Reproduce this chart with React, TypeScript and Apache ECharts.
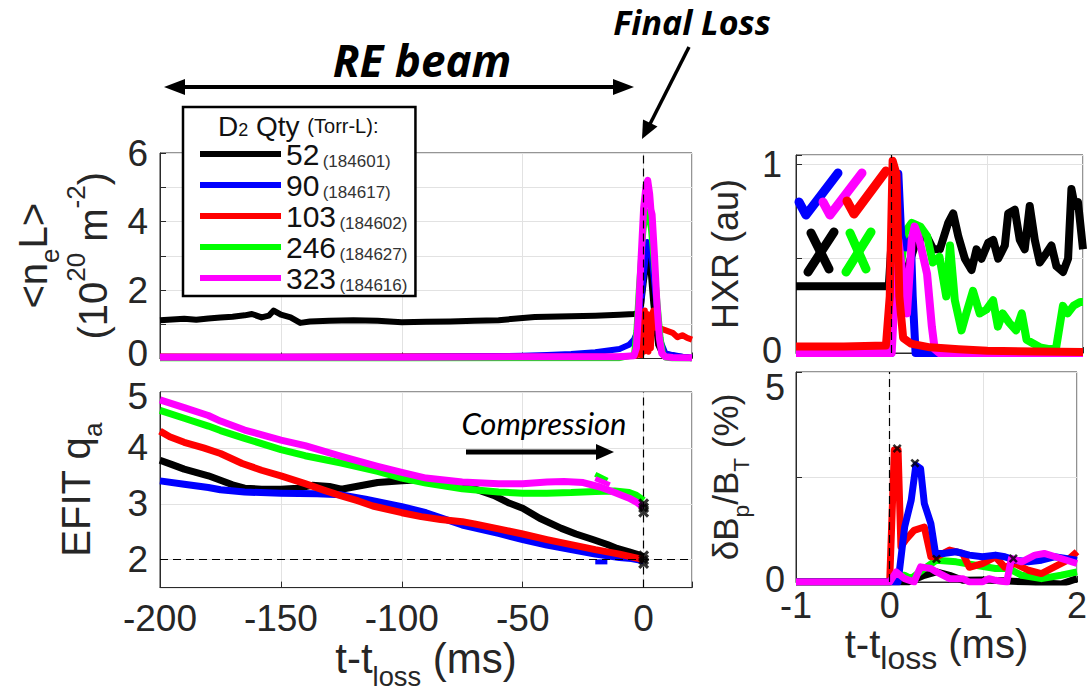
import React, { useEffect, useRef } from 'react';
import * as echarts from 'echarts';

// ---------- data ----------
const legendNames = ['52', '90', '103', '246', '323'];
const legendShots = ['184601', '184617', '184602', '184627', '184616'];

// <n_e L> (10^20 m^-2) vs t - t_loss (ms)
const neBlack: [number, number][] = [
  [-200, 1.12], [-195, 1.14], [-190, 1.16], [-185, 1.13], [-180, 1.17], [-175, 1.2], [-170, 1.22], [-165, 1.26],
  [-162, 1.3], [-158, 1.2], [-155, 1.25], [-153, 1.4], [-150, 1.28], [-146, 1.2], [-142, 1.04], [-138, 1.08],
  [-130, 1.1], [-120, 1.12], [-110, 1.1], [-100, 1.06], [-90, 1.07], [-80, 1.08], [-70, 1.1], [-60, 1.12],
  [-50, 1.18], [-45, 1.21], [-40, 1.22], [-30, 1.23], [-20, 1.25], [-10, 1.28], [-4, 1.3], [-2, 1.32],
  [-1, 1.6], [0, 2.2], [1, 2.7], [2.5, 2.9], [4, 1.6], [6, 0.4], [8, 0.1], [10, 0.12], [14, 0.06], [18, 0.04], [20, 0.0],
];
const neBlue: [number, number][] = [
  [-200, 0.05], [-150, 0.05], [-100, 0.06], [-60, 0.07], [-50, 0.08], [-40, 0.1], [-30, 0.13], [-20, 0.18],
  [-10, 0.28], [-6, 0.4], [-4, 0.55], [-2, 0.9], [0, 2.4], [1.5, 3.4], [3, 3.2], [5, 1.8], [7, 0.5], [9, 0.15],
  [12, 0.1], [16, 0.05], [20, 0.02],
];
const neRed: [number, number][] = [
  [-200, 0.06], [-150, 0.05], [-100, 0.06], [-50, 0.05], [-10, 0.06], [-3, 0.08], [-2, 0.2], [-1.5, 1.0],
  [-1, 0.1], [-0.5, 1.2], [0, 0.2], [0.5, 1.4], [1, 0.3], [1.5, 1.3], [2, 0.2], [2.5, 1.2], [3, 0.3],
  [3.5, 1.3], [4, 1.4], [4.5, 1.1], [5, 0.9], [5.5, 1.0], [6, 0.9], [8, 0.85], [10, 0.8], [12, 0.75],
  [14, 0.62], [16, 0.68], [18, 0.6], [20, 0.55],
];
const neGreen: [number, number][] = [
  [-200, 0.0], [-100, 0.0], [-10, 0.01], [-4, 0.1], [-3, 0.8], [-2, 2.0], [-1, 3.0], [0, 3.8], [1, 4.3],
  [2, 4.2], [3, 3.8], [4, 3.0], [5, 2.2], [6, 1.4], [7, 0.6], [8, 0.15], [9, 0.03], [12, 0.0], [20, 0.0],
];
const neMagenta: [number, number][] = [
  [-200, 0.04], [-100, 0.04], [-50, 0.05], [-10, 0.05], [-4, 0.08], [-3, 0.3], [-2, 1.5], [-1, 3.0], [0, 4.4],
  [1, 5.05], [1.7, 5.2], [2.5, 4.8], [3, 4.35], [3.5, 4.2], [4.5, 3.0], [5.5, 1.6], [6.5, 0.6], [7.5, 0.15],
  [9, 0.05], [12, 0.03], [20, 0.02],
];

// EFIT q_a vs t - t_loss (ms)
const qaBlack: [number, number][] = [
  [-200, 3.78], [-195, 3.7], [-190, 3.62], [-180, 3.5], [-175, 3.42], [-170, 3.34], [-165, 3.28], [-158, 3.26],
  [-150, 3.26], [-143, 3.28], [-137, 3.33], [-130, 3.31], [-125, 3.26], [-120, 3.3], [-110, 3.38], [-100, 3.41],
  [-92, 3.43], [-84, 3.39], [-75, 3.33], [-70, 3.27], [-62, 3.15], [-56, 3.02], [-50, 2.92], [-43, 2.74],
  [-34, 2.56], [-28, 2.46], [-21, 2.36], [-15, 2.27], [-11, 2.2], [-6, 2.14], [-3, 2.1], [0, 2.05],
];
const qaBlue: [number, number][] = [
  [-200, 3.41], [-190, 3.35], [-180, 3.29], [-175, 3.25], [-165, 3.21], [-150, 3.19], [-135, 3.18], [-125, 3.16],
  [-115, 3.08], [-100, 2.95], [-90, 2.84], [-75, 2.62], [-60, 2.47], [-50, 2.36], [-40, 2.26], [-30, 2.18],
  [-20, 2.1], [-15, 2.07], [-10, 2.04], [-5, 2.02], [0, 1.98],
];
const qaRed: [number, number][] = [
  [-200, 4.3], [-196, 4.2], [-190, 4.1], [-182, 4.0], [-175, 3.9], [-166, 3.72], [-158, 3.6], [-150, 3.5],
  [-140, 3.36], [-132, 3.24], [-125, 3.14], [-118, 3.05], [-112, 2.96], [-100, 2.84], [-92, 2.77], [-84, 2.72],
  [-75, 2.68], [-70, 2.64], [-60, 2.55], [-50, 2.46], [-40, 2.36], [-30, 2.27], [-20, 2.18], [-10, 2.1],
  [-5, 2.05], [0, 2.0],
];
const qaGreen: [number, number][] = [
  [-200, 4.67], [-190, 4.53], [-180, 4.39], [-175, 4.31], [-165, 4.17], [-150, 3.97], [-140, 3.86], [-125, 3.73],
  [-110, 3.58], [-100, 3.46], [-90, 3.37], [-75, 3.27], [-60, 3.21], [-50, 3.19], [-40, 3.19], [-30, 3.2],
  [-20, 3.22], [-12, 3.23], [-6, 3.2], [-3, 3.15], [0, 3.06],
];
const qaMagenta: [number, number][] = [
  [-200, 4.86], [-190, 4.72], [-180, 4.58], [-175, 4.48], [-165, 4.32], [-150, 4.14], [-140, 4.04], [-125, 3.85],
  [-110, 3.67], [-100, 3.56], [-90, 3.46], [-75, 3.39], [-60, 3.36], [-50, 3.36], [-40, 3.39], [-33, 3.4],
  [-25, 3.38], [-18, 3.3], [-12, 3.2], [-6, 3.1], [-3, 3.03], [0, 2.93],
];
const qaGreenFrag: [number, number][] = [[-20, 3.53], [-15, 3.42]];
const qaMagentaFrag: [number, number][] = [[-20, 3.45], [-14, 3.34]];
const qaBlueFrag: [number, number][] = [[-20, 1.96], [-15, 1.96]];
const qaEndMarks: [number, number][] = [[0, 1.93], [0, 2.0], [0, 2.07], [0, 2.85], [0, 2.93], [0, 3.0]];

// HXR (au) vs t - t_loss (ms)
const hxrBlack: [number, number][] = [
  [-1, 0.354], [-0.03, 0.354], [0.0, 0.6], [0.04, 0.5], [0.087, 0.39], [0.174, 0.46], [0.26, 0.6], [0.365, 0.62],
  [0.435, 0.55], [0.504, 0.55], [0.591, 0.69], [0.643, 0.74], [0.696, 0.62], [0.765, 0.5], [0.835, 0.44],
  [0.887, 0.55], [0.939, 0.5], [1.009, 0.585], [1.061, 0.6], [1.113, 0.5], [1.183, 0.57], [1.218, 0.74],
  [1.287, 0.76], [1.339, 0.6], [1.391, 0.55], [1.443, 0.78], [1.496, 0.6], [1.548, 0.48], [1.618, 0.53],
  [1.67, 0.57], [1.722, 0.46], [1.792, 0.43], [1.844, 0.5], [1.879, 0.87], [1.914, 0.78], [1.948, 0.8], [2.0, 0.55],
];
const hxrGreen: [number, number][] = [
  [-1, 0], [-0.01, 0], [0.01, 0.64], [0.087, 0.43], [0.14, 0.64], [0.21, 0.69], [0.3, 0.67], [0.37, 0.62],
  [0.43, 0.48], [0.5, 0.51], [0.57, 0.3], [0.61, 0.57], [0.66, 0.28], [0.73, 0.12], [0.78, 0.21], [0.85, 0.33],
  [0.92, 0.21], [0.99, 0.23], [1.06, 0.28], [1.11, 0.14], [1.16, 0.21], [1.23, 0.16], [1.3, 0.12], [1.36, 0.21],
  [1.41, 0.07], [1.48, 0.05], [1.55, 0.03], [1.65, 0.02], [1.72, 0.03], [1.79, 0.25], [1.84, 0.21], [1.9, 0.25],
  [1.97, 0.27], [2.0, 0.27],
];
const hxrBlue: [number, number][] = [
  [-1, 0], [-0.01, 0], [0.03, 0.6], [0.07, 0.95], [0.1, 0.62], [0.15, 0.56], [0.2, 0.6], [0.22, 0.3], [0.25, 0], [2, 0],
];
const hxrMagenta: [number, number][] = [
  [-1, 0], [0.0, 0], [0.03, 0.3], [0.07, 0.6], [0.12, 0.39], [0.16, 0.21], [0.21, 0.6], [0.24, 0.67], [0.29, 0.6],
  [0.37, 0.42], [0.42, 0.14], [0.45, 0.02], [0.5, 0], [2, 0],
];
const hxrRed: [number, number][] = [
  [-1, 0.035], [-0.5, 0.035], [-0.06, 0.04], [-0.02, 0.3], [0.01, 1.02], [0.05, 0.95], [0.08, 0.3], [0.12, 0.08],
  [0.2, 0.05], [0.4, 0.03], [0.7, 0.02], [1.0, 0.012], [1.5, 0.008], [2.0, 0.005],
];

// dBp/BT (%) vs t - t_loss (ms)
const dbBlack: [number, number][] = [
  [-1, 0], [0.2, 0], [0.37, 0.16], [0.5, 0.24], [0.64, 0.16], [0.78, 0.04], [1.0, 0.05], [1.2, 0.03], [1.48, 0],
  [1.83, -0.05], [2.0, 0.08],
];
const dbGreen: [number, number][] = [
  [-1, 0], [0.0, 0], [0.05, 0.16], [0.16, 0.16], [0.23, 0.08], [0.37, 0.32], [0.5, 0.52], [0.71, 0.48], [0.92, 0.4],
  [1.13, 0.32], [1.27, 0.32], [1.41, 0.16], [1.62, 0.08], [1.83, 0.16], [2.0, 0.24],
];
const dbRed: [number, number][] = [
  [-1, 0], [0.0, 0], [0.05, 3.14], [0.09, 3.14], [0.12, 0.84], [0.17, 1.0], [0.26, 1.23], [0.37, 1.31], [0.44, 0.6],
  [0.5, 0.6], [0.64, 0.76], [0.78, 0.68], [0.85, 0.35], [0.99, 0.44], [1.13, 0.6], [1.23, 0.35], [1.34, 0.44],
  [1.48, 0.28], [1.62, 0.2], [1.76, 0.36], [1.9, 0.52], [2.0, 0.72],
];
const dbBlue: [number, number][] = [
  [-1, 0], [0.09, 0], [0.16, 1.31], [0.23, 1.95], [0.28, 2.78], [0.33, 2.7], [0.37, 1.87], [0.44, 1.39], [0.49, 0.68],
  [0.57, 0.68], [0.71, 0.72], [0.85, 0.64], [0.99, 0.6], [1.13, 0.64], [1.23, 0.6], [1.34, 0.52], [1.48, 0.48],
  [1.62, 0.52], [1.76, 0.6], [2.0, 0.52],
];
const dbMagenta: [number, number][] = [
  [-1, 0], [0.0, 0], [0.07, 0.24], [0.16, 0.08], [0.26, 0.0], [0.33, 0.36], [0.44, 0.32], [0.5, 0.24], [0.64, 0.08],
  [0.78, 0.08], [0.85, 0.0], [0.99, 0.0], [1.06, 0.08], [1.13, 0.04], [1.25, 0.0], [1.3, 0.56], [1.41, 0.48],
  [1.55, 0.64], [1.65, 0.68], [1.83, 0.56], [2.0, 0.44],
];
const dbPeakMarks: [number, number][] = [[0.08, 3.18], [0.27, 2.83], [0.5, 0.55], [1.32, 0.56]];

// ---------- styling ----------
const FONT = '"Liberation Sans", Helvetica, Arial, sans-serif';
const TXT = '#262626';
const AXC = '#2a2a2a';
const GRIDC = '#e2e2e2';
const C = { black: '#000000', blue: '#0000ff', red: '#ff0000', green: '#00ff00', magenta: '#ff00ff' };
const XMARK = 'path://M2,0L5,3L8,0L10,2L7,5L10,8L8,10L5,7L2,10L0,8L3,5L0,2Z';

function rich(size: number, subRatio = 0.65) {
  return {
    m: { fontSize: size, fontFamily: FONT, color: TXT, lineHeight: size * 1.5, verticalAlign: 'middle' },
    sub: { fontSize: size * subRatio, fontFamily: FONT, color: TXT, lineHeight: size * 0.75, verticalAlign: 'bottom' },
    sup: { fontSize: size * 0.65, fontFamily: FONT, color: TXT, lineHeight: size, verticalAlign: 'top' },
  };
}

function valueAxis(gi: number, extra: any) {
  return {
    type: 'value',
    gridIndex: gi,
    axisLine: { show: true, onZero: false, lineStyle: { color: AXC, width: 1 } },
    axisTick: { show: true, inside: true, length: 6, lineStyle: { color: AXC } },
    splitLine: { show: true, lineStyle: { color: GRIDC, width: 1 } },
    ...extra,
    axisLabel: { fontFamily: FONT, fontSize: 37, color: TXT, ...(extra.axisLabel || {}) },
  };
}

const dashed = (data: any[]) => ({
  silent: true,
  symbol: ['none', 'none'],
  label: { show: false },
  animation: false,
  lineStyle: { color: '#000', type: [8, 5], width: 1.2 },
  data,
});

function line(name: string, data: [number, number][], color: string, gi: number, width: number, extra: any = {}) {
  return {
    type: 'line',
    name,
    data,
    xAxisIndex: gi,
    yAxisIndex: gi,
    showSymbol: false,
    symbol: 'none',
    lineStyle: { color, width, join: 'round', cap: 'butt' },
    itemStyle: { color },
    silent: true,
    emphasis: { disabled: true },
    ...extra,
  };
}

function marks(name: string, data: [number, number][], gi: number, size: number) {
  return {
    type: 'scatter',
    name,
    data,
    xAxisIndex: gi,
    yAxisIndex: gi,
    symbol: XMARK,
    symbolSize: size,
    itemStyle: { color: '#000' },
    silent: true,
    z: 5,
  };
}

const isInt = (v: number) => Math.abs(v - Math.round(v)) < 1e-9;

const stroke = (color: string, w: number) => ({ stroke: color, lineWidth: w, lineCap: 'round', lineJoin: 'round', fill: null });

const option: any = {
  animation: false,
  backgroundColor: '#ffffff',
  grid: [
    { left: 160, top: 153, width: 532, height: 205.5 },
    { left: 160, top: 392, width: 532, height: 205 },
    { left: 796, top: 155, width: 287, height: 198 },
    { left: 796, top: 372, width: 287, height: 210 },
  ].map((g) => ({ ...g, show: true, borderColor: AXC, borderWidth: 1, backgroundColor: 'transparent' })),
  xAxis: [
    valueAxis(0, { min: -200, max: 20, interval: 50, axisLabel: { show: false } }),
    valueAxis(1, {
      min: -200, max: 20, interval: 50,
      axisLabel: { margin: 12, formatter: (v: number) => (v <= 0 ? String(v) : '') },
      name: '{m|t-t}{sub|loss}{m| (ms)}',
      nameLocation: 'middle',
      nameGap: 34,
      nameTextStyle: { rich: rich(42) },
    }),
    valueAxis(2, { min: -1, max: 2, interval: 1, axisLabel: { show: false } }),
    valueAxis(3, {
      min: -1, max: 2, interval: 1,
      axisLabel: { margin: 9, fontSize: 36, lineHeight: 28 },
      name: '{m|t-t}{sub|loss}{m| (ms)}',
      nameLocation: 'middle',
      nameGap: 29,
      nameTextStyle: { rich: rich(40, 0.8) },
    }),
  ],
  yAxis: [
    valueAxis(0, {
      min: 0, max: 6, interval: 1,
      axisLabel: {
        margin: 12,
        formatter: (v: number) => (v === 0 ? '{b|0}' : isInt(v) && v % 2 === 0 ? String(v) : ''),
        rich: { b: { fontFamily: FONT, fontSize: 37, color: TXT, padding: [0, 0, 10, 0] } },
      },
      name: '{m|<n}{sub|e}{m|L>}\n{m|(10}{sup|20}{m| m}{sup|-2}{m|)}',
      nameLocation: 'middle',
      nameGap: 37,
      nameTextStyle: { rich: rich(40) },
    }),
    valueAxis(1, {
      min: 1.5, max: 5, interval: 0.5,
      axisTick: { show: false },
      splitLine: { show: true, lineStyle: { color: ['rgba(0,0,0,0)', GRIDC], width: 1 } },
      axisLabel: {
        margin: 12,
        formatter: (v: number) => (v === 5 ? '{t|5}' : isInt(v) && v >= 2 ? String(v) : ''),
        rich: { t: { fontFamily: FONT, fontSize: 37, color: TXT, padding: [8, 0, 0, 0] } },
      },
      name: '{m|EFIT q}{sub|a}',
      nameLocation: 'middle',
      nameGap: 54,
      nameTextStyle: { rich: rich(40) },
    }),
    valueAxis(2, {
      min: 0, max: 1.05, interval: 0.5,
      axisLabel: {
        margin: 14, fontSize: 36, lineHeight: 28,
        formatter: (v: number) => (v === 0 ? '{b|0}' : v === 1 ? '1' : ''),
        rich: { b: { fontFamily: FONT, fontSize: 36, color: TXT, lineHeight: 28, padding: [0, 0, 6, 0] } },
      },
      name: '{m|HXR (au)}',
      nameLocation: 'middle',
      nameGap: 44,
      nameTextStyle: { rich: rich(36) },
    }),
    valueAxis(3, {
      min: 0, max: 5, interval: 2.5,
      axisLabel: {
        margin: 11, fontSize: 36, lineHeight: 28,
        formatter: (v: number) => (v === 0 ? '{b|0}' : v === 5 ? '{t|5}' : ''),
        rich: {
          t: { fontFamily: FONT, fontSize: 36, color: TXT, lineHeight: 28, padding: [30, 0, 0, 0] },
          b: { fontFamily: FONT, fontSize: 36, color: TXT, lineHeight: 28, padding: [0, 0, 6, 0] },
        },
      },
      name: '{m|δB}{sub|p}{m|/B}{sub|T}{m| (%)}',
      nameLocation: 'middle',
      nameGap: 44,
      nameTextStyle: { rich: rich(35) },
    }),
  ],
  legend: {
    data: legendNames,
    orient: 'vertical',
    left: 183,
    top: 107,
    icon: 'rect',
    itemWidth: 81,
    itemHeight: 6,
    itemGap: 0,
    padding: [32, 8, 2, 17],
    borderColor: '#000',
    borderWidth: 2.5,
    backgroundColor: '#ffffff',
    selectedMode: false,
    z: 10,
    formatter: (name: string) => `{n|${name}} {s|(${legendShots[legendNames.indexOf(name)]})}`,
    textStyle: {
      rich: {
        n: { fontFamily: FONT, fontSize: 30, color: '#111', lineHeight: 32, verticalAlign: 'middle' },
        s: { fontFamily: FONT, fontSize: 17, color: '#333', lineHeight: 27, verticalAlign: 'bottom' },
      },
    },
  },
  series: [
    // panel 1: <n_e L>
    line('52', neBlack, C.black, 0, 6),
    line('90', neBlue, C.blue, 0, 6),
    line('103', neRed, C.red, 0, 6),
    line('246', neGreen, C.green, 0, 6),
    line('323', neMagenta, C.magenta, 0, 7, { markLine: dashed([{ xAxis: 0 }]), z: 3 }),
    // panel 2: q_a
    line('qa52', qaBlack, C.black, 1, 7, { markLine: dashed([{ yAxis: 2 }]) }),
    line('qa90', qaBlue, C.blue, 1, 7),
    line('qa103', qaRed, C.red, 1, 7),
    line('qa246', qaGreen, C.green, 1, 7),
    line('qa323', qaMagenta, C.magenta, 1, 7, { markLine: dashed([{ xAxis: 0 }]) }),
    line('qa246f', qaGreenFrag, C.green, 1, 5),
    line('qa323f', qaMagentaFrag, C.magenta, 1, 5),
    line('qa90f', qaBlueFrag, C.blue, 1, 5),
    marks('qaEnd', qaEndMarks, 1, 11),
    // panel 3: HXR
    line('h52', hxrBlack, C.black, 2, 8),
    line('h246', hxrGreen, C.green, 2, 8),
    line('h90', hxrBlue, C.blue, 2, 8),
    line('h323', hxrMagenta, C.magenta, 2, 8),
    line('h103', hxrRed, C.red, 2, 8, { markLine: dashed([{ xAxis: 0 }]) }),
    // panel 4: dBp/BT
    line('d52', dbBlack, C.black, 3, 7),
    line('d246', dbGreen, C.green, 3, 7),
    line('d103', dbRed, C.red, 3, 7),
    line('d90', dbBlue, C.blue, 3, 7),
    line('d323', dbMagenta, C.magenta, 3, 7, { markLine: dashed([{ xAxis: 0 }]) }),
    marks('dPeak', dbPeakMarks, 3, 9),
  ],
  graphic: [
    // RE beam annotation
    { type: 'text', x: 422, y: 60, z: 20, style: { text: 'RE beam', font: 'italic bold 44px "Open Sans", Lato, sans-serif', fill: '#000', align: 'center', verticalAlign: 'middle' } },
    { type: 'rect', z: 20, shape: { x: 178, y: 85, width: 442, height: 4 }, style: { fill: '#000' } },
    { type: 'polygon', z: 20, shape: { points: [[164, 87], [185, 79], [185, 95]] }, style: { fill: '#000' } },
    { type: 'polygon', z: 20, shape: { points: [[634, 87], [613, 79], [613, 95]] }, style: { fill: '#000' } },
    // Final Loss annotation
    { type: 'text', x: 692, y: 22, z: 20, style: { text: 'Final Loss', font: 'italic bold 34px "Open Sans", Lato, sans-serif', fill: '#000', align: 'center', verticalAlign: 'middle' } },
    { type: 'line', z: 20, shape: { x1: 689, y1: 47, x2: 650, y2: 124 }, style: { stroke: '#000', lineWidth: 3.5 } },
    { type: 'polygon', z: 20, shape: { points: [[642, 139], [657.5, 126.6], [643, 119.4]] }, style: { fill: '#000' } },
    // Compression annotation
    { type: 'text', x: 544, y: 423, z: 20, style: { text: 'Compression', font: 'italic 31px Lato, "Open Sans", sans-serif', fill: '#000', align: 'center', verticalAlign: 'middle' } },
    { type: 'rect', z: 20, shape: { x: 466, y: 449.5, width: 134, height: 5 }, style: { fill: '#000' } },
    { type: 'polygon', z: 20, shape: { points: [[614, 452], [596, 444], [596, 460]] }, style: { fill: '#000' } },
    // legend title
    {
      type: 'text', x: 218, y: 126, z: 30,
      style: {
        text: '{a|D}{b|2}{a| Qty }{c|(Torr-L):}',
        align: 'left', verticalAlign: 'middle',
        rich: {
          a: { fontFamily: FONT, fontSize: 28, fill: '#111', lineHeight: 26, verticalAlign: 'middle' },
          b: { fontFamily: FONT, fontSize: 18, fill: '#111', lineHeight: 8, verticalAlign: 'bottom' },
          c: { fontFamily: FONT, fontSize: 20, fill: '#111', lineHeight: 26, verticalAlign: 'middle' },
        },
      },
    },
    // HXR check / cross marks (hand-drawn style)
    { type: 'polyline', z: 20, shape: { points: [[799, 202], [806, 215], [838, 173]] }, style: stroke(C.blue, 9) },
    { type: 'polyline', z: 20, shape: { points: [[823, 202], [830, 215], [862, 173]] }, style: stroke(C.magenta, 9) },
    { type: 'polyline', z: 20, shape: { points: [[847, 201], [854, 214], [886, 171]] }, style: stroke(C.red, 9) },
    { type: 'line', z: 20, shape: { x1: 811, y1: 233, x2: 829, y2: 269 }, style: stroke(C.black, 9) },
    { type: 'line', z: 20, shape: { x1: 834, y1: 232, x2: 808, y2: 272 }, style: stroke(C.black, 9) },
    { type: 'line', z: 20, shape: { x1: 850, y1: 233, x2: 866, y2: 269 }, style: stroke(C.green, 9) },
    { type: 'line', z: 20, shape: { x1: 871, y1: 232, x2: 846, y2: 272 }, style: stroke(C.green, 9) },
  ],
};

export default function App() {
  const ref = useRef<HTMLDivElement>(null);
  useEffect(() => {
    if (!ref.current) return;
    const chart = echarts.init(ref.current, null, { renderer: 'svg' });
    chart.setOption(option);
    return () => chart.dispose();
  }, []);
  return (
    <div
      ref={ref}
      style={{ position: 'absolute', left: 0, top: 0, width: 1090, height: 691, background: '#fff' }}
    />
  );
}
